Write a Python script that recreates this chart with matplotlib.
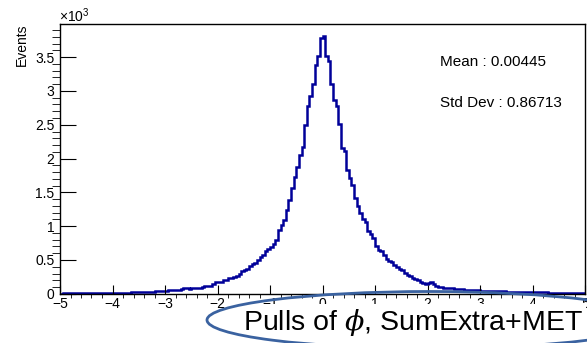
import numpy as np
import matplotlib
matplotlib.use('Agg')
import matplotlib.pyplot as plt
from matplotlib.patches import Ellipse
from matplotlib.ticker import MultipleLocator, FuncFormatter

plt.rcParams['font.family'] = ['Liberation Sans', 'DejaVu Sans']
plt.rcParams['mathtext.fontset'] = 'custom'
plt.rcParams['mathtext.rm'] = 'Liberation Sans'
plt.rcParams['mathtext.it'] = 'DejaVu Serif:italic'

# 200 bins between -5 and 5 (width 0.05), counts
bin_edges = np.linspace(-5, 5, 201)

tail_left = [4, 6, 5, 7, 6, 8, 7, 9, 8, 10,
             9, 11, 10, 12, 11, 13, 12, 14, 13, 15,
             14, 16, 15, 17, 18, 17, 19, 20, 21, 22,
             24, 26, 25, 28, 30, 32, 35, 38]
flank_left = [46, 46, 48, 50, 50, 52, 60, 60, 65, 80,
              80, 78, 80, 82, 90, 90, 95, 110, 110, 120,
              150, 180, 170, 170, 200, 200, 230, 240, 250, 270, 290]
rise_left = [330, 350, 370, 410, 440, 450, 500, 550, 580, 640,
             660, 690, 730, 800, 940, 1020, 1090, 1240, 1390, 1560,
             1730, 1880]
core = [2050, 2170, 2490, 2780, 2930, 3110, 3380, 3510, 3790,
        3810, 3520, 3450, 3100, 2860, 2780, 2510, 2160, 2110]
fall_right = [1830, 1710, 1610, 1420, 1300, 1200, 1100, 1060, 930, 890,
              820, 700, 650, 630, 580, 520, 490, 470, 420, 390, 370]
flank_right = [350, 310, 280, 260, 230, 220, 200, 170, 160, 150,
               160, 170, 140, 110, 100, 95, 90, 88, 85, 80,
               75, 70, 70, 75, 60, 60, 58, 55, 52, 50]
tail_right = [48, 46, 45, 44, 42, 40, 41, 38, 36, 35,
              34, 33, 32, 30, 31, 29, 28, 27, 26, 25,
              24, 23, 22, 21, 22, 20, 19, 18, 18, 17,
              16, 15, 15, 14, 13, 12, 12, 11, 10, 10]

counts = np.array(tail_left + flank_left + rise_left + core
                  + fall_right + flank_right + tail_right)

stats_text = ['Mean : 0.00445', 'Std Dev : 0.86713']
caption = r'Pulls of $\phi$, SumExtra+MET'

W, H = 587, 343
fig = plt.figure(figsize=(W / 100, H / 100), dpi=100)
ax = fig.add_axes([60 / W, 1 - 293.8 / H, 525 / W, 269.8 / H])

ax.stairs(counts, bin_edges, baseline=None, color='#000099', linewidth=1.8)

ax.set_xlim(-5, 5)
ax.set_ylim(0, 3990)
ax.xaxis.set_major_locator(MultipleLocator(1))
ax.xaxis.set_minor_locator(MultipleLocator(0.2))
ax.yaxis.set_major_locator(MultipleLocator(500))
ax.yaxis.set_minor_locator(MultipleLocator(100))
ax.yaxis.set_major_formatter(FuncFormatter(lambda v, _: f'{v / 1000:g}'))
ax.xaxis.set_major_formatter(FuncFormatter(lambda v, _: f'{v:g}'.replace('-', '\u2212')))

ax.tick_params(axis='both', direction='in', labelsize=10, width=0.8, color='black')
ax.tick_params(axis='y', which='major', length=11.5, pad=4)
ax.tick_params(axis='y', which='minor', length=5.8)
ax.tick_params(axis='x', which='major', length=6.5, pad=2)
ax.tick_params(axis='x', which='minor', length=3.2)
for s in ax.spines.values():
    s.set_linewidth(1.0)

fig.text(22 / W, 1 - 24 / H, 'Events', rotation=90, ha='center', va='top', fontsize=10)
fig.text(59 / W, 1 - 22 / H, r'$\times10^{3}$', ha='left', va='baseline', fontsize=10)

fig.text(440 / W, 1 - 61.7 / H, stats_text[0], ha='left', va='center', fontsize=11)
fig.text(440 / W, 1 - 103 / H, stats_text[1], ha='left', va='center', fontsize=11)

# slide annotation: white text box under an outlined ellipse
fig.text(243 / W, 1 - 330 / H, caption, ha='left', va='baseline', fontsize=20.5, zorder=3,
         bbox=dict(boxstyle='square,pad=0.12', facecolor='white', edgecolor='none'))
ell = Ellipse((430 / W, 1 - 320 / H), 446 / W, 57 / H, transform=fig.transFigure,
              facecolor='none', edgecolor='#3A62A0', linewidth=2.0, zorder=4)
fig.add_artist(ell)

fig.savefig('out.png', dpi=100)
